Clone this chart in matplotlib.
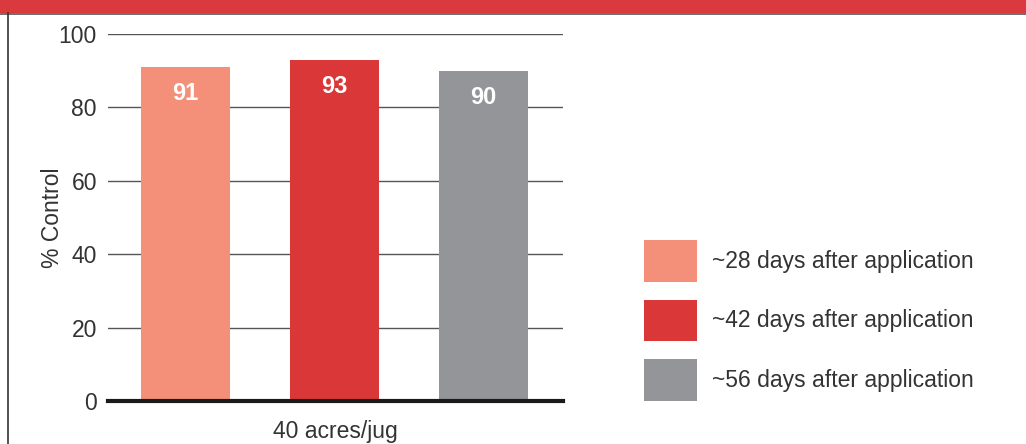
import matplotlib.pyplot as plt
from matplotlib.patches import Patch, Rectangle

# data
labels = ['~28 days after application', '~42 days after application', '~56 days after application']
values = [91, 93, 90]
colors = ['#F4907A', '#DA3838', '#939598']
category = '40 acres/jug'

plt.rcParams['font.family'] = ['Liberation Sans', 'DejaVu Sans']
text_col = '#333333'
fs = 16.5

fig = plt.figure(figsize=(10.26, 4.44), dpi=100)
ax = fig.add_axes([0.1053, 0.0968, 0.4435, 0.8266])

x = range(len(values))
bars = ax.bar(x, values, width=0.6, color=colors, zorder=3)

# value labels inside the bars
for b, v in zip(bars, values):
    ax.text(b.get_x() + b.get_width() / 2, v - 7.2, str(v), ha='center', va='center',
            color='white', fontsize=17, fontweight='bold', zorder=4)

ax.set_xlim(-0.52, 2.535)
ax.set_ylim(0, 100)
ax.set_yticks([0, 20, 40, 60, 80, 100])
ax.set_xticks([])
ax.grid(axis='y', color='#555555', linewidth=1, zorder=0)
for s in ['top', 'right', 'left']:
    ax.spines[s].set_visible(False)
ax.spines['bottom'].set_linewidth(3)
ax.spines['bottom'].set_color('#1a1a1a')
ax.spines['bottom'].set_zorder(5)
ax.tick_params(axis='y', length=0, pad=8, labelsize=fs, labelcolor=text_col)
ax.set_ylabel('% Control', fontsize=fs, color=text_col, labelpad=-4)
ax.set_xlabel(category, fontsize=fs, color=text_col, labelpad=14)

# legend
handles = [Patch(facecolor=c, edgecolor='none') for c in colors]
leg = fig.legend(handles, labels, loc='upper left', bbox_to_anchor=(0.619, 0.48),
                 frameon=False, fontsize=fs, handlelength=2.31, handleheight=2.41,
                 labelspacing=0.79, handletextpad=0.66, borderaxespad=0)
for t in leg.get_texts():
    t.set_color(text_col)

# red header band and border
fig.patches.append(Rectangle((0, 1 - 13 / 444), 1, 13 / 444, transform=fig.transFigure,
                             facecolor='#DA3A3E', edgecolor='none'))
fig.add_artist(plt.Line2D([0, 1], [1 - 14 / 444] * 2, transform=fig.transFigure,
                          color='#555555', linewidth=1.2))
fig.add_artist(plt.Line2D([7.5 / 1026] * 2, [0, 1 - 13 / 444], transform=fig.transFigure,
                          color='#333333', linewidth=1.2))

fig.savefig('out.png', dpi=100)
